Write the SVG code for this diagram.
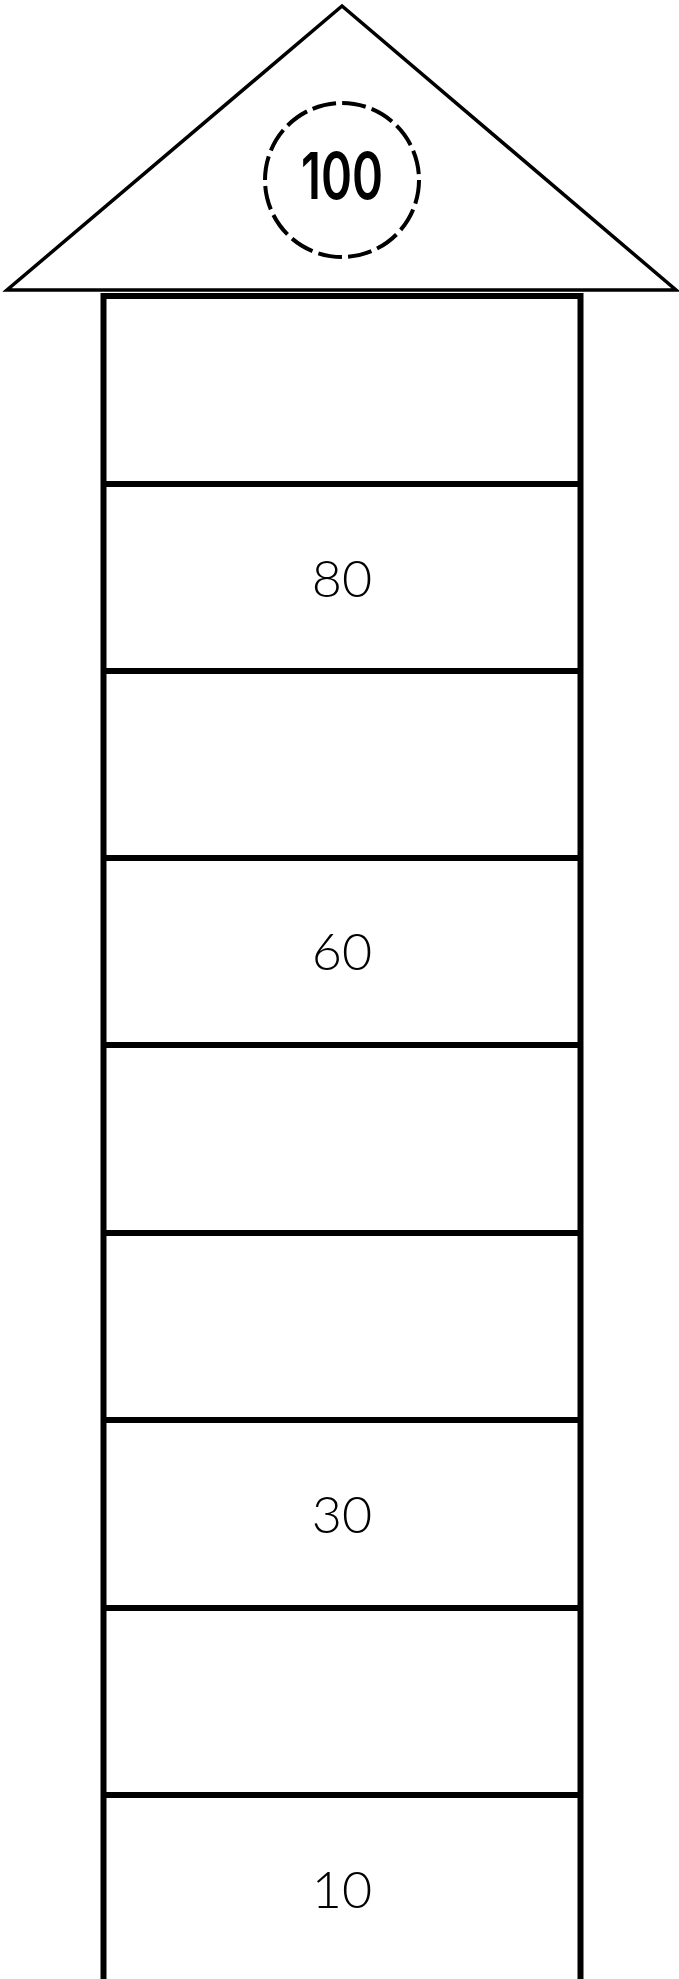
<svg xmlns="http://www.w3.org/2000/svg" width="679" height="1979" viewBox="0 0 679 1979">
<style>
.num{font-family:Lato,"Open Sans",sans-serif;font-weight:300;font-size:52px;fill:#000;text-anchor:middle}
.rung{stroke:#000;stroke-width:6;fill:none}
</style>
<rect width="679" height="1979" fill="#fff"/>
<g id="roof">
<polygon points="342,6 7,290 676,290" fill="#fff" stroke="#000" stroke-width="3.5" stroke-linejoin="miter"/>
<circle cx="342" cy="180" r="77" fill="none" stroke="#000" stroke-width="4" stroke-dasharray="24 6.2"/>
<text x="342" y="199" font-family="Inter,Lato,sans-serif" font-weight="600" font-size="64" text-anchor="middle" textLength="82" lengthAdjust="spacingAndGlyphs">100</text>
</g>
<g id="tower">
<path class="rung" d="M103.5,1979 V296 H580.5 V1979"/>
<g id="rungs">
<line class="rung" x1="103.5" y1="484" x2="580.5" y2="484"/>
<line class="rung" x1="103.5" y1="671" x2="580.5" y2="671"/>
<line class="rung" x1="103.5" y1="858" x2="580.5" y2="858"/>
<line class="rung" x1="103.5" y1="1045" x2="580.5" y2="1045"/>
<line class="rung" x1="103.5" y1="1233" x2="580.5" y2="1233"/>
<line class="rung" x1="103.5" y1="1420" x2="580.5" y2="1420"/>
<line class="rung" x1="103.5" y1="1608" x2="580.5" y2="1608"/>
<line class="rung" x1="103.5" y1="1795" x2="580.5" y2="1795"/>
</g>
</g>
<g id="box80"><text class="num" x="342" y="597">80</text></g>
<g id="box60"><text class="num" x="342" y="970">60</text></g>
<g id="box30"><text class="num" x="342" y="1533">30</text></g>
<g id="box10"><text class="num" x="342" y="1908">10</text></g>
</svg>
